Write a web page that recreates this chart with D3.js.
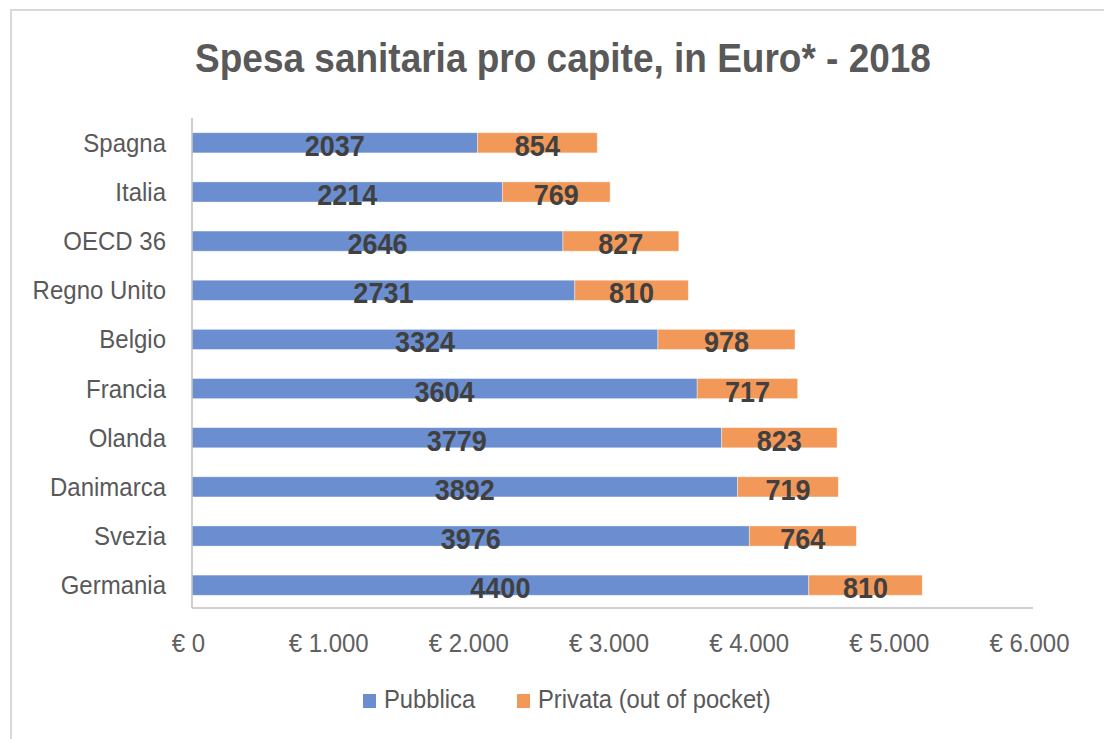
<!DOCTYPE html>
<html>
<head>
<meta charset="utf-8">
<script src="https://cdn.jsdelivr.net/npm/d3@7"></script>
<style>
  html, body { margin: 0; padding: 0; background: #ffffff; }
  svg { display: block; }
  text { font-family: "Liberation Sans", Arial, sans-serif; }
</style>
</head>
<body>
<svg id="chart" width="1104" height="739"></svg>
<script>
const categories = ["Spagna", "Italia", "OECD 36", "Regno Unito", "Belgio", "Francia", "Olanda", "Danimarca", "Svezia", "Germania"];
const pubblica = [2037, 2214, 2646, 2731, 3324, 3604, 3779, 3892, 3976, 4400];
const privata = [854, 769, 827, 810, 978, 717, 823, 719, 764, 810];
const seriesNames = ["Pubblica", "Privata (out of pocket)"];
const tickValues = [0, 1000, 2000, 3000, 4000, 5000, 6000];
const titleText = "Spesa sanitaria pro capite, in Euro* - 2018";

const colors = ["#6a8ecf", "#f2995a"];
const SY = 1.1; // vertical stretch of text in the reference

const svg = d3.select("#chart");

// chart border
svg.append("rect")
  .attr("x", 11).attr("y", 10).attr("width", 1200).attr("height", 1000)
  .attr("fill", "#fff").attr("stroke", "#d9d9d9").attr("stroke-width", 2);

const x = d3.scaleLinear().domain([0, 6000]).range([192, 1033]);
const y = d3.scaleBand().domain(categories).range([118, 610]).paddingInner(0.59).paddingOuter(0.3);
const axisY = 608;

function stretchedText(sel, tx, ty) {
  return sel.attr("transform", `translate(${tx},${ty}) scale(1,${SY})`);
}

// title
stretchedText(svg.append("text"), 563, 72)
  .attr("text-anchor", "middle")
  .attr("font-size", 37).attr("font-weight", "bold")
  .attr("fill", "#595959")
  .text(titleText);

// stacked data
const rows = categories.map((c, i) => ({ cat: c, Pubblica: pubblica[i], Privata: privata[i] }));
const stack = d3.stack().keys(["Pubblica", "Privata"]);
const layers = stack(rows);

const gBars = svg.append("g");
layers.forEach((layer, li) => {
  gBars.selectAll(null).data(layer).enter().append("rect")
    .attr("x", d => x(d[0]))
    .attr("y", d => y(d.data.cat))
    .attr("width", d => x(d[1]) - x(d[0]))
    .attr("height", y.bandwidth())
    .attr("fill", colors[li])
    .attr("stroke", "rgba(255,255,255,0.5)")
    .attr("stroke-width", 0.75);
});

// value labels
layers.forEach((layer, li) => {
  layer.forEach(d => {
    const cx = (x(d[0]) + x(d[1])) / 2;
    const cy = y(d.data.cat) + y.bandwidth() / 2;
    stretchedText(svg.append("text"), cx, cy + 13)
      .attr("text-anchor", "middle")
      .attr("font-size", 27).attr("font-weight", "bold")
      .attr("fill", "#404040")
      .text(d[1] - d[0]);
  });
});

// axes lines
svg.append("line")
  .attr("x1", x(0)).attr("x2", x(0)).attr("y1", 118).attr("y2", axisY)
  .attr("stroke", "#bfbfbf").attr("stroke-width", 1.5);
svg.append("line")
  .attr("x1", x(0)).attr("x2", x(6000)).attr("y1", axisY).attr("y2", axisY)
  .attr("stroke", "#bfbfbf").attr("stroke-width", 1.5);

// x axis ticks labels
const fmt = v => "€ " + d3.format(",")(v).replace(/,/g, ".");
const xAxis = d3.axisBottom(x).tickValues(tickValues).tickFormat(fmt).tickSize(0);
const gx = svg.append("g").attr("transform", `translate(0,${axisY})`).call(xAxis);
gx.select(".domain").remove();
gx.selectAll("text")
  .attr("y", 0).attr("dy", 0)
  .attr("transform", `translate(-4,44) scale(1,${SY})`)
  .attr("font-size", 24).attr("fill", "#606060")
  .attr("font-family", "Liberation Sans, Arial, sans-serif");

// y category labels
const yAxis = d3.axisLeft(y).tickSize(0);
const gy = svg.append("g").attr("transform", `translate(166,0)`).call(yAxis);
gy.select(".domain").remove();
gy.selectAll("text")
  .attr("x", 0).attr("dy", 0)
  .attr("transform", `translate(0,9) scale(1,${SY})`)
  .attr("font-size", 24).attr("fill", "#595959")
  .attr("font-family", "Liberation Sans, Arial, sans-serif");

// legend
const legendX = [363, 517];
seriesNames.forEach((name, i) => {
  svg.append("rect")
    .attr("x", legendX[i]).attr("y", 694).attr("width", 13).attr("height", 14)
    .attr("fill", colors[i]);
  stretchedText(svg.append("text"), legendX[i] + 21, 708)
    .attr("font-size", 23.8).attr("fill", "#595959")
    .text(name);
});
</script>
</body>
</html>
